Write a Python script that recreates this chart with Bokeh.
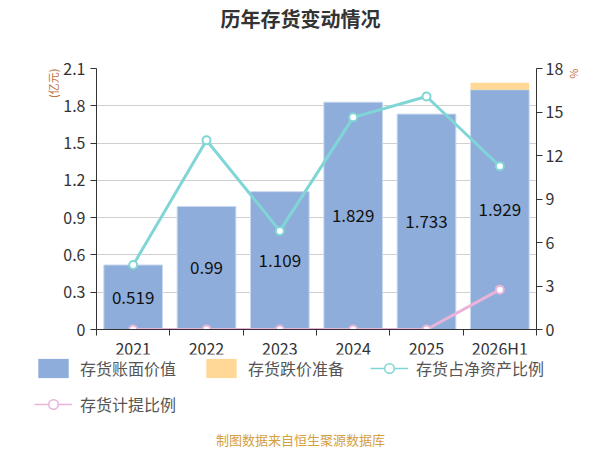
from bokeh.models import (ColumnDataSource, Range1d, LinearAxis, FixedTicker,
                          Title, Legend, LegendItem, Label)
from bokeh.plotting import figure
from bokeh.layouts import column, row
from bokeh.embed import file_html
from bokeh.resources import INLINE

years = ["2021", "2022", "2023", "2024", "2025", "2026H1"]
book_value = [0.519, 0.99, 1.109, 1.829, 1.733, 1.929]
impairment = [0, 0, 0, 0, 0, 0.056]
net_asset_ratio = [4.45, 13.05, 6.8, 14.63, 16.07, 11.26]
provision_ratio = [0, 0, 0, 0, 0, 2.75]

FONT = "Noto Sans CJK SC"
BLUE = "#8eadda"
YELLOW = "#ffd898"
CYAN = "#80d6d6"
PINK = "#e8b4da"


def blank_fig(height):
    f = figure(width=584, height=height, output_backend="svg", toolbar_location=None,
               x_range=Range1d(0, 1), y_range=Range1d(0, 1),
               x_axis_type=None, y_axis_type=None, min_border=0)
    f.outline_line_color = None
    f.grid.grid_line_color = None
    return f


# title strip
tf = blank_fig(36)
tf.add_layout(Label(x=300, y=18, x_units="screen", y_units="screen",
                    text="历年存货变动情况", text_align="center", text_baseline="middle",
                    text_font=FONT, text_font_size="20px", text_font_style="bold",
                    text_color="#333333"))

xs = [i + 0.5 for i in range(len(years))]
tops = [b + s for b, s in zip(book_value, impairment)]
src = ColumnDataSource(dict(x=xs, book=book_value, top=tops, ratio=net_asset_ratio,
                            prov=provision_ratio, mid=[b / 2 for b in book_value],
                            lbl=[str(b) for b in book_value]))

p = figure(width=584, height=326, output_backend="svg", toolbar_location=None,
           x_range=Range1d(0, 6), y_range=Range1d(0, 2.1),
           min_border_left=96, min_border_right=40, min_border_top=32,
           min_border_bottom=24)
p.outline_line_color = None
p.background_fill_color = "white"
p.xgrid.grid_line_color = None
p.ygrid.grid_line_color = "#d0d0d0"
p.ygrid.ticker = FixedTicker(ticks=[0.3 * i for i in range(8)])

# x axis: labels at centres, ticks at category boundaries
xa = p.xaxis[0]
xa.ticker = FixedTicker(ticks=xs, minor_ticks=list(range(7)))
xa.major_label_overrides = {x: y for x, y in zip(xs, years)}
xa.major_tick_out = 0
xa.major_tick_in = 0
xa.minor_tick_out = 6
xa.minor_tick_in = 0
xa.minor_tick_line_color = "#333333"
xa.axis_line_color = "#333333"
xa.major_label_text_font = FONT
xa.major_label_text_font_size = "16px"
xa.major_label_text_color = "#333333"
xa.major_label_standoff = 0

ya = p.yaxis[0]
ya.ticker = FixedTicker(ticks=[0, 0.3, 0.6, 0.9, 1.2, 1.5, 1.8, 2.1])
ya.major_label_overrides = {0: "0"}
ya.minor_tick_line_color = None
ya.major_tick_in = 0
ya.major_tick_out = 6
ya.axis_line_color = "#333333"
ya.major_tick_line_color = "#333333"
ya.major_label_text_font = FONT
ya.major_label_text_font_size = "16px"
ya.major_label_text_color = "#333333"

p.extra_y_ranges = {"pct": Range1d(0, 18)}
ra = LinearAxis(y_range_name="pct", ticker=FixedTicker(ticks=[0, 3, 6, 9, 12, 15, 18]))
ra.major_tick_in = 0
ra.major_tick_out = 6
ra.major_label_standoff = 3
ra.minor_tick_line_color = None
ra.axis_line_color = "#333333"
ra.major_tick_line_color = "#333333"
ra.major_label_text_font = FONT
ra.major_label_text_font_size = "16px"
ra.major_label_text_color = "#333333"
p.add_layout(ra, "right")

# bars
p.vbar(x="x", top="book", bottom=0, width=0.8, source=src,
       fill_color=BLUE, line_color="#c8d8ee", line_width=1)
p.vbar(x="x", top="top", bottom="book", width=0.8, source=src,
       fill_color=YELLOW, line_color=None)
p.text(x="x", y="mid", text="lbl", source=src, text_align="center",
       text_baseline="middle", text_font_size="17px", text_color="#111111",
       text_font={"value": FONT})

# lines
p.line(x="x", y="ratio", source=src, y_range_name="pct", line_color=CYAN, line_width=3)
p.scatter(x="x", y="ratio", source=src, y_range_name="pct", size=8,
          fill_color="white", line_color=CYAN, line_width=2)
p.line(x="x", y="prov", source=src, y_range_name="pct", line_color=PINK, line_width=3)
p.scatter(x="x", y="prov", source=src, y_range_name="pct", size=8,
          fill_color="white", line_color=PINK, line_width=2)

# unit labels
p.add_layout(Title(text="(亿元)", align="right", text_font=FONT, text_font_size="11px",
                   text_font_style="normal", text_color="#c0703a", standoff=0), "left")
p.add_layout(Title(text="%", align="left", text_font=FONT, text_font_size="11px",
                   text_font_style="normal", text_color="#c0703a", standoff=0), "right")

# legend + footer strip
lf = blank_fig(96)
offscreen = ColumnDataSource(dict(x=[-10], y=[-10]))
g_book = lf.vbar(x="x", top="y", width=1, source=offscreen, fill_color=BLUE, line_color=None)
g_imp = lf.vbar(x="x", top="y", width=1, source=offscreen, fill_color=YELLOW, line_color=None)
g_rl = lf.line(x="x", y="y", source=offscreen, line_color=CYAN, line_width=1.5)
g_rm = lf.scatter(x="x", y="y", source=offscreen, size=20, fill_color="white",
                  line_color=CYAN, line_width=1.5)
g_pl = lf.line(x="x", y="y", source=offscreen, line_color=PINK, line_width=1.5)
g_pm = lf.scatter(x="x", y="y", source=offscreen, size=20, fill_color="white",
                  line_color=PINK, line_width=1.5)

leg_style = dict(orientation="horizontal", glyph_width=38, glyph_height=24,
                 label_standoff=8, spacing=26, label_height=24,
                 label_text_font=FONT, label_text_font_size="16px",
                 label_text_color="#555555", background_fill_alpha=0,
                 border_line_color=None, padding=0, margin=0)
leg1 = Legend(items=[
    LegendItem(label="存货账面价值", renderers=[g_book]),
    LegendItem(label="存货跌价准备", renderers=[g_imp]),
    LegendItem(label="存货占净资产比例", renderers=[g_rl, g_rm]),
], location=(34, 70), **leg_style)
leg2 = Legend(items=[
    LegendItem(label="存货计提比例", renderers=[g_pl, g_pm]),
], location=(34, 34), **leg_style)
lf.add_layout(leg1, "center")
lf.add_layout(leg2, "center")

lf.add_layout(Label(x=300, y=11, x_units="screen", y_units="screen",
                    text="制图数据来自恒生聚源数据库", text_align="center",
                    text_baseline="middle", text_font=FONT, text_font_size="13px",
                    text_color="#d4a040"))

lrow = row(lf)
lrow.margin = (-8, 0, 0, 0)
page = column(row(tf), p, lrow, spacing=0)
open("out.html", "w").write(file_html(page, INLINE))
